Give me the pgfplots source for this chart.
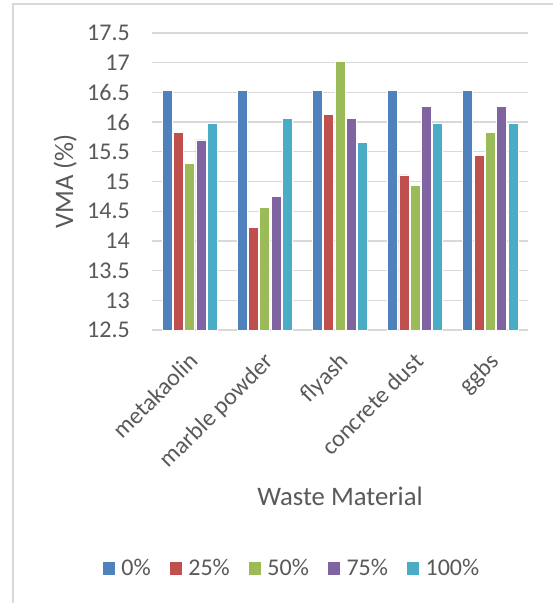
\documentclass[border=0pt]{standalone}
\usepackage{pgfplots}
\pgfplotsset{compat=1.18}
\usepackage{fontspec}
\setmainfont{Carlito}

\definecolor{txt}{RGB}{89,89,89}
\definecolor{gridc}{RGB}{217,217,217}
\definecolor{cA}{RGB}{79,129,189}
\definecolor{cB}{RGB}{192,80,77}
\definecolor{cC}{RGB}{155,187,89}
\definecolor{cD}{RGB}{128,100,162}
\definecolor{cE}{RGB}{75,172,198}

\begin{document}
\begin{tikzpicture}
\useasboundingbox (0,0) rectangle (553pt,-603pt);
% chart frame
\draw[gridc, line width=1.5pt] (13pt,-603pt) -- (13pt,-4pt) -- (553pt,-4pt);

\begin{axis}[
  at={(152pt,-330pt)}, anchor=south west,
  scale only axis, width=376pt, height=297pt,
  ybar=1.3pt, bar width=10pt,
  xmin=-0.5, xmax=4.5, ymin=12.5, ymax=17.5,
  ytick={12.5,13,...,17.5},
  xtick={0,1,2,3,4},
  xticklabels={metakaolin, marble powder, flyash, concrete dust, ggbs},
  major tick length=0pt,
  axis line style={draw=none},
  ymajorgrids, major grid style={gridc, line width=1.3pt},
  /pgf/number format/assume math mode=true,
  /pgf/number format/.cd, fixed, precision=1, /pgfplots/.cd,
  tick label style={font=\fontsize{24}{28}\selectfont, text=txt},
  yticklabel style={anchor=east, inner sep=0pt, xshift=-22pt},
  xticklabel style={inner sep=0pt, text height=16pt, text depth=5pt,
    xshift=6pt, yshift=-29pt, rotate=45, anchor=east},
  xlabel={Waste Material},
  ylabel={VMA (\%)},
  every axis x label/.style={at={(axis description cs:0.5,-0.559)}, anchor=center,
    font=\fontsize{26.7}{30}\selectfont, text=txt},
  every axis y label/.style={at={(axis description cs:-0.231,0.5)}, anchor=center,
    rotate=90, font=\fontsize{26.7}{30}\selectfont, text=txt},
  legend columns=-1,
  legend style={at={(axis description cs:-0.1338,-0.8024)}, anchor=west,
    draw=none, fill=none, inner sep=0pt,
    font=\fontsize{24}{28}\selectfont, text=txt,
    nodes={inner sep=0pt},
    /tikz/every odd column/.append style={column sep=5.5pt},
    /tikz/every even column/.append style={column sep=18pt}},
  legend image code/.code={\fill[#1] (0pt,-6.65pt) rectangle (13.3pt,6.65pt);},
]
\addplot[fill=cA, draw=white, line width=0.8pt] coordinates {(0,16.53) (1,16.53) (2,16.53) (3,16.53) (4,16.53)};
\addplot[fill=cB, draw=white, line width=0.8pt] coordinates {(0,15.82) (1,14.23) (2,16.13) (3,15.11) (4,15.44)};
\addplot[fill=cC, draw=white, line width=0.8pt] coordinates {(0,15.31) (1,14.57) (2,17.02) (3,14.94) (4,15.82)};
\addplot[fill=cD, draw=white, line width=0.8pt] coordinates {(0,15.70) (1,14.75) (2,16.06) (3,16.26) (4,16.26)};
\addplot[fill=cE, draw=white, line width=0.8pt] coordinates {(0,15.97) (1,16.06) (2,15.66) (3,15.97) (4,15.97)};
\legend{0\%, 25\%, 50\%, 75\%, 100\%}
\end{axis}
\end{tikzpicture}
\end{document}
